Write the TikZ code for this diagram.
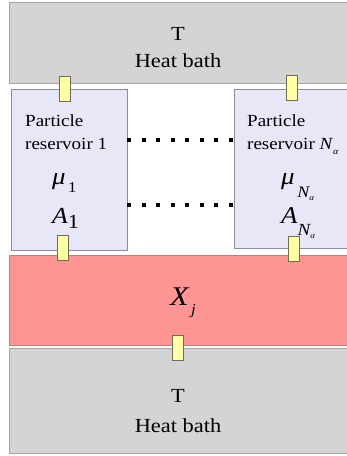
\documentclass[tikz,border=0pt]{standalone}
\usepackage{fontspec}
\setmainfont[FakeStretch=1.12]{Liberation Serif}
\usepackage{tikz}
\usetikzlibrary{positioning}
\definecolor{bathgray}{HTML}{D4D4D4}
\definecolor{bathline}{HTML}{A4A4A4}
\definecolor{resblue}{HTML}{E7E7F8}
\definecolor{resline}{HTML}{8C8CA0}
\definecolor{sysred}{HTML}{FF9494}
\definecolor{sysline}{HTML}{D07878}
\definecolor{linkyellow}{HTML}{FFFFA6}
\definecolor{linkline}{HTML}{6E6E50}
% lowered index: drop, size, text
\newcommand{\lowidx}[3]{\raisebox{-#1pt}{\fontsize{#2}{#2}\selectfont #3}}

\tikzset{
  bath/.style={fill=bathgray, draw=bathline, line width=1pt, inner sep=0pt, outer sep=0pt, anchor=north west},
  reservoir/.style={fill=resblue, draw=resline, line width=0.8pt, inner sep=0pt, outer sep=0pt, anchor=north west},
  system/.style={fill=sysred, draw=sysline, line width=0.8pt, inner sep=0pt, outer sep=0pt, anchor=north west},
  link/.style={fill=linkyellow, draw=linkline, line width=0.8pt, inner sep=0pt, minimum width=11pt, minimum height=25pt},
  bathtext/.style={align=center, inner sep=0pt},
  restext/.style={anchor=base west, inner sep=0pt, font=\fontsize{17}{20}\selectfont},
  mathtext/.style={anchor=base west, inner sep=0pt, font=\fontsize{24}{24}\selectfont\itshape},
  dotrow/.style={line width=4pt, dash pattern=on 4pt off 10.5pt}
}

\begin{document}
\begin{tikzpicture}[x=1pt, y=-1pt]
\useasboundingbox (0,0) rectangle (347,456);

% boxes
\node[bath, minimum width=340pt, minimum height=81pt] (topbath) at (9,2) {};
\node[reservoir, minimum width=116pt, minimum height=161pt] (res1) at (11,89) {};
\node[reservoir, minimum width=116pt, minimum height=159pt] (resN) at (234,89) {};
\node[system, minimum width=340pt, minimum height=90pt] (sys) at (9,255) {};
\node[bath, minimum width=340pt, minimum height=105pt] (botbath) at (9,348) {};

% dotted rows
\coordinate (rowa) at (0,140);
\coordinate (rowb) at (0,205);
\draw[dotrow] (res1.east |- rowa) -- (resN.west |- rowa);
\draw[dotrow] (res1.east |- rowb) -- (resN.west |- rowb);

% contacts
\node[link] (lnk1top) at (65,89) {};
\node[link] (lnkNtop) at (291.5,88) {};
\node[link] (lnk1bot) at (63,248) {};
\node[link] (lnkNbot) at (293.5,248.5) {};
\node[link] (lnksys) at (178,347.5) {};

% labels
\node[bathtext, font=\fontsize{20}{27}\selectfont] (toplbl) at (178,48) {T\\Heat bath};
\node[bathtext, font=\fontsize{20}{30}\selectfont] (botlbl) at (178,411) {T\\Heat bath};

\node[restext] (part1) at (25,126) {Particle};
\node[restext] (name1) at (25,149) {reservoir 1};
\node[mathtext] (mu1) at (52,184) {μ\lowidx{8}{15}{\upshape\,1}};
\node[mathtext, font=\fontsize{23}{23}\selectfont\itshape] (amp1) at (52,223) {A\lowidx{5}{20}{\upshape 1}};

\node[restext] (partN) at (247,126) {Particle};
\node[restext] (nameN) at (247,149) {reservoir \textit{N}\lowidx{5}{9}{\itshape α}};
\node[mathtext] (muN) at (281,184) {μ\lowidx{13}{16}{\,N\lowidx{3}{8}{α}}};
\node[mathtext] (ampN) at (281,223) {A\lowidx{12}{17}{N\lowidx{3}{8}{α}}};

\node[mathtext, font=\fontsize{27}{27}\selectfont\itshape] (xj) at (170,305) {X\lowidx{9}{15}{\,j}};
\end{tikzpicture}
\end{document}
